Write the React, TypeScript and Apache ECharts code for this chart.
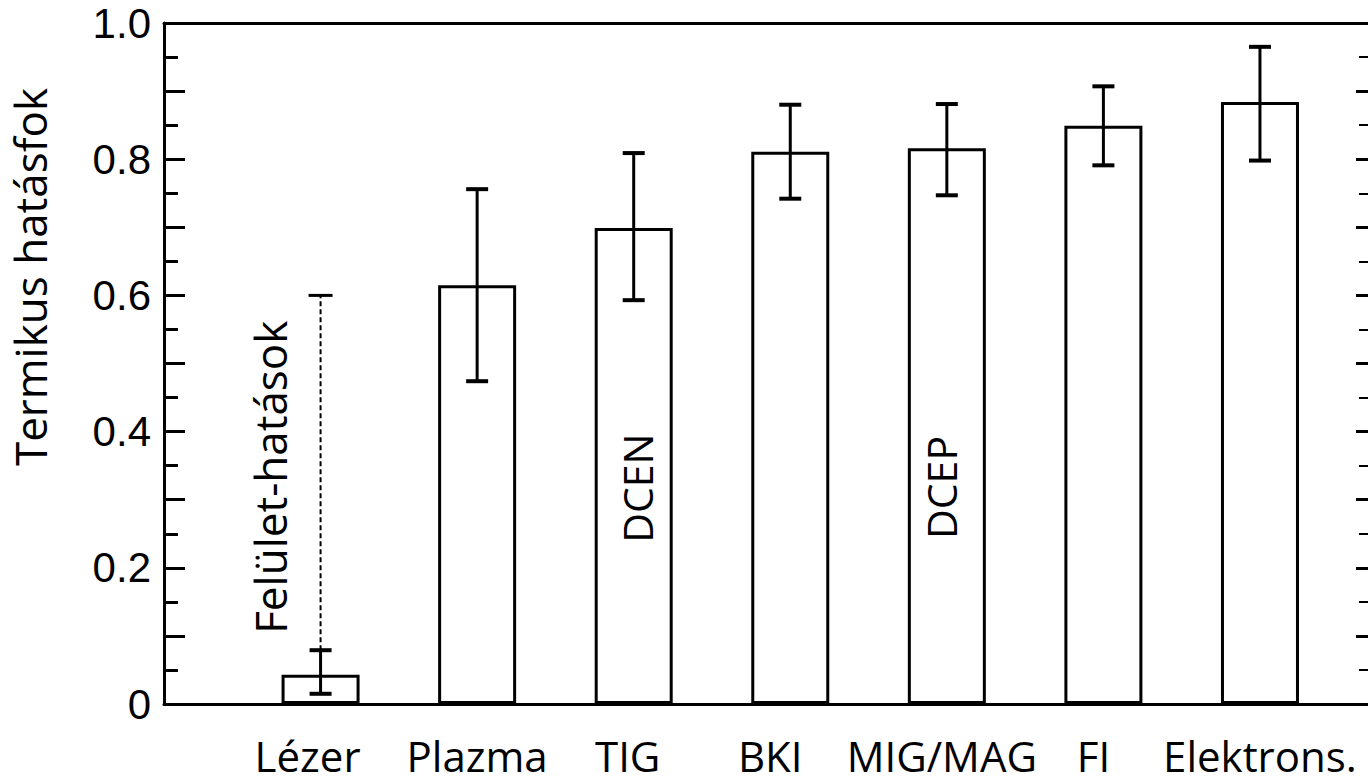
import React, { useEffect, useRef } from 'react';
import * as echarts from 'echarts';

// ---- data ----
const categories = ['Lézer', 'Plazma', 'TIG', 'BKI', 'MIG/MAG', 'FI', 'Elektrons.'];
const efficiency = [0.043, 0.615, 0.699, 0.811, 0.816, 0.849, 0.884];
const errLow = [0.015, 0.474, 0.593, 0.742, 0.747, 0.791, 0.798];
const errHigh = [0.079, 0.756, 0.809, 0.88, 0.881, 0.907, 0.965];
const surfaceEffectUpper = 0.6; // dashed extension of the laser bar's range
const annotationTexts = ['Felület-hatások', 'DCEN', 'DCEP'];
const annotationCategory = [1, 3, 5];
const annotationValue = [0.333, 0.317, 0.318];
const yAxisTitle = 'Termikus hatásfok';

export default function App() {
  const ref = useRef<HTMLDivElement>(null);

  useEffect(() => {
    if (!ref.current) return;
    const chart = echarts.init(ref.current, null, { renderer: 'svg' });
    const positions = categories.map((_, i) => i + 1);
    const annOffsetX = [-51, 3, -6];
    // small horizontal nudges of the category labels relative to the bar centres (px)
    const labelShift = [-13, 0, -6, -20, -5, -10, 0];

    const rich: any = {};
    labelShift.forEach((s, i) => {
      rich['s' + i] = {
        fontFamily: 'Open Sans',
        fontSize: 42,
        lineHeight: 38,
        color: '#000',
        padding: s < 0 ? [0, -2 * s, 0, 0] : [0, 0, 0, 2 * s],
      };
    });

    const yLabel = (v: number) => {
      const t = Math.round(v * 10);
      if (t % 2 !== 0) return '';
      return t === 0 ? '0' : (t / 10).toFixed(1);
    };

    const option: any = {
      animation: false,
      backgroundColor: '#ffffff',
      grid: { left: 164, right: 0, top: 23, bottom: 79 },
      xAxis: [
        {
          type: 'value',
          min: 0,
          max: 7.69,
          interval: 1,
          position: 'bottom',
          axisLine: { show: true, onZero: false, lineStyle: { color: '#000', width: 3 } },
          axisTick: { show: false },
          splitLine: { show: false },
          axisLabel: {
            formatter: (v: number) => {
              const i = Math.round(v);
              return Math.abs(v - i) < 1e-6 && i >= 1 && i <= categories.length
                ? '{s' + (i - 1) + '|' + categories[i - 1] + '}'
                : '';
            },
            rich,
            fontFamily: 'Open Sans',
            fontSize: 42,
            lineHeight: 38,
            color: '#000',
            margin: 32,
            showMaxLabel: false,
          },
        },
        {
          type: 'value',
          min: 0,
          max: 7.69,
          position: 'top',
          axisLine: { show: true, onZero: false, lineStyle: { color: '#000', width: 3 } },
          axisTick: { show: false },
          axisLabel: { show: false },
          splitLine: { show: false },
        },
      ],
      yAxis: [
        {
          type: 'value',
          min: 0,
          max: 1,
          interval: 0.1,
          position: 'left',
          axisLine: { show: true, onZero: false, lineStyle: { color: '#000', width: 3 } },
          axisTick: { show: true, inside: true, length: 21, lineStyle: { color: '#000', width: 3 } },
          minorTick: { show: true, splitNumber: 2, length: 14, lineStyle: { color: '#000', width: 3 } },
          axisLabel: {
            formatter: yLabel,
            fontFamily: 'Liberation Sans',
            fontSize: 42,
            color: '#000',
            margin: 13,
          },
          splitLine: { show: false },
        },
        {
          type: 'value',
          min: 0,
          max: 1,
          interval: 0.1,
          position: 'right',
          axisLine: { show: false, onZero: false },
          axisTick: { show: true, inside: true, length: 12, lineStyle: { color: '#000', width: 3 } },
          minorTick: { show: true, splitNumber: 2, length: 9, lineStyle: { color: '#000', width: 2 } },
          axisLabel: { show: false },
          splitLine: { show: false },
        },
      ],
      graphic: [
        {
          type: 'text',
          x: 30,
          y: 277,
          rotation: Math.PI / 2,
          style: {
            text: yAxisTitle,
            fontFamily: 'Open Sans',
            fontSize: 44,
            lineHeight: 44,
            fill: '#000',
            align: 'center',
            verticalAlign: 'middle',
          },
        },
      ],
      series: [
        {
          type: 'bar',
          xAxisIndex: 0,
          yAxisIndex: 0,
          barWidth: 78,
          data: positions.map((x, i) => [x, efficiency[i]]),
          itemStyle: { color: '#ffffff', borderColor: '#000', borderWidth: 3 },
          z: 2,
        },
        {
          type: 'custom',
          xAxisIndex: 0,
          yAxisIndex: 0,
          data: positions.map((x, i) => [x, errLow[i], errHigh[i]]),
          encode: { x: 0, y: [1, 2] },
          z: 4,
          renderItem: (params: any, api: any) => {
            const x = api.value(0);
            const lo = api.coord([x, api.value(1)]);
            const hi = api.coord([x, api.value(2)]);
            const hw = 11;
            return {
              type: 'group',
              children: [
                { type: 'line', shape: { x1: lo[0], y1: lo[1], x2: hi[0], y2: hi[1] }, style: { stroke: '#000', lineWidth: 3 } },
                { type: 'line', shape: { x1: lo[0] - hw, y1: lo[1], x2: lo[0] + hw, y2: lo[1] }, style: { stroke: '#000', lineWidth: 4 } },
                { type: 'line', shape: { x1: hi[0] - hw, y1: hi[1], x2: hi[0] + hw, y2: hi[1] }, style: { stroke: '#000', lineWidth: 4 } },
              ],
            };
          },
        },
        {
          type: 'custom',
          xAxisIndex: 0,
          yAxisIndex: 0,
          data: [[positions[0], errHigh[0], surfaceEffectUpper]],
          encode: { x: 0, y: [1, 2] },
          z: 4,
          renderItem: (params: any, api: any) => {
            const x = api.value(0);
            const lo = api.coord([x, api.value(1)]);
            const hi = api.coord([x, api.value(2)]);
            const hw = 12;
            return {
              type: 'group',
              children: [
                { type: 'line', shape: { x1: lo[0], y1: lo[1], x2: hi[0], y2: hi[1] }, style: { stroke: '#000', lineWidth: 2, lineDash: [5, 3] } },
                { type: 'line', shape: { x1: hi[0] - hw, y1: hi[1], x2: hi[0] + hw, y2: hi[1] }, style: { stroke: '#000', lineWidth: 3 } },
              ],
            };
          },
        },
        {
          type: 'custom',
          xAxisIndex: 0,
          yAxisIndex: 0,
          data: annotationCategory.map((c, i) => [c, annotationValue[i]]),
          encode: { x: 0, y: 1 },
          z: 5,
          renderItem: (params: any, api: any) => {
            const p = api.coord([api.value(0), api.value(1)]);
            const i = params.dataIndex;
            return {
              type: 'text',
              x: p[0] + annOffsetX[i],
              y: p[1],
              rotation: Math.PI / 2,
              style: {
                text: annotationTexts[i],
                fontFamily: 'Open Sans',
                fontSize: i === 0 ? 44 : 41,
                fill: '#000',
                align: 'center',
                verticalAlign: 'middle',
              },
            };
          },
        },
      ],
    };

    chart.setOption(option);
    return () => chart.dispose();
  }, []);

  return (
    <div
      ref={ref}
      style={{ position: 'absolute', left: 0, top: 0, width: 1368, height: 783, background: '#fff' }}
    />
  );
}
